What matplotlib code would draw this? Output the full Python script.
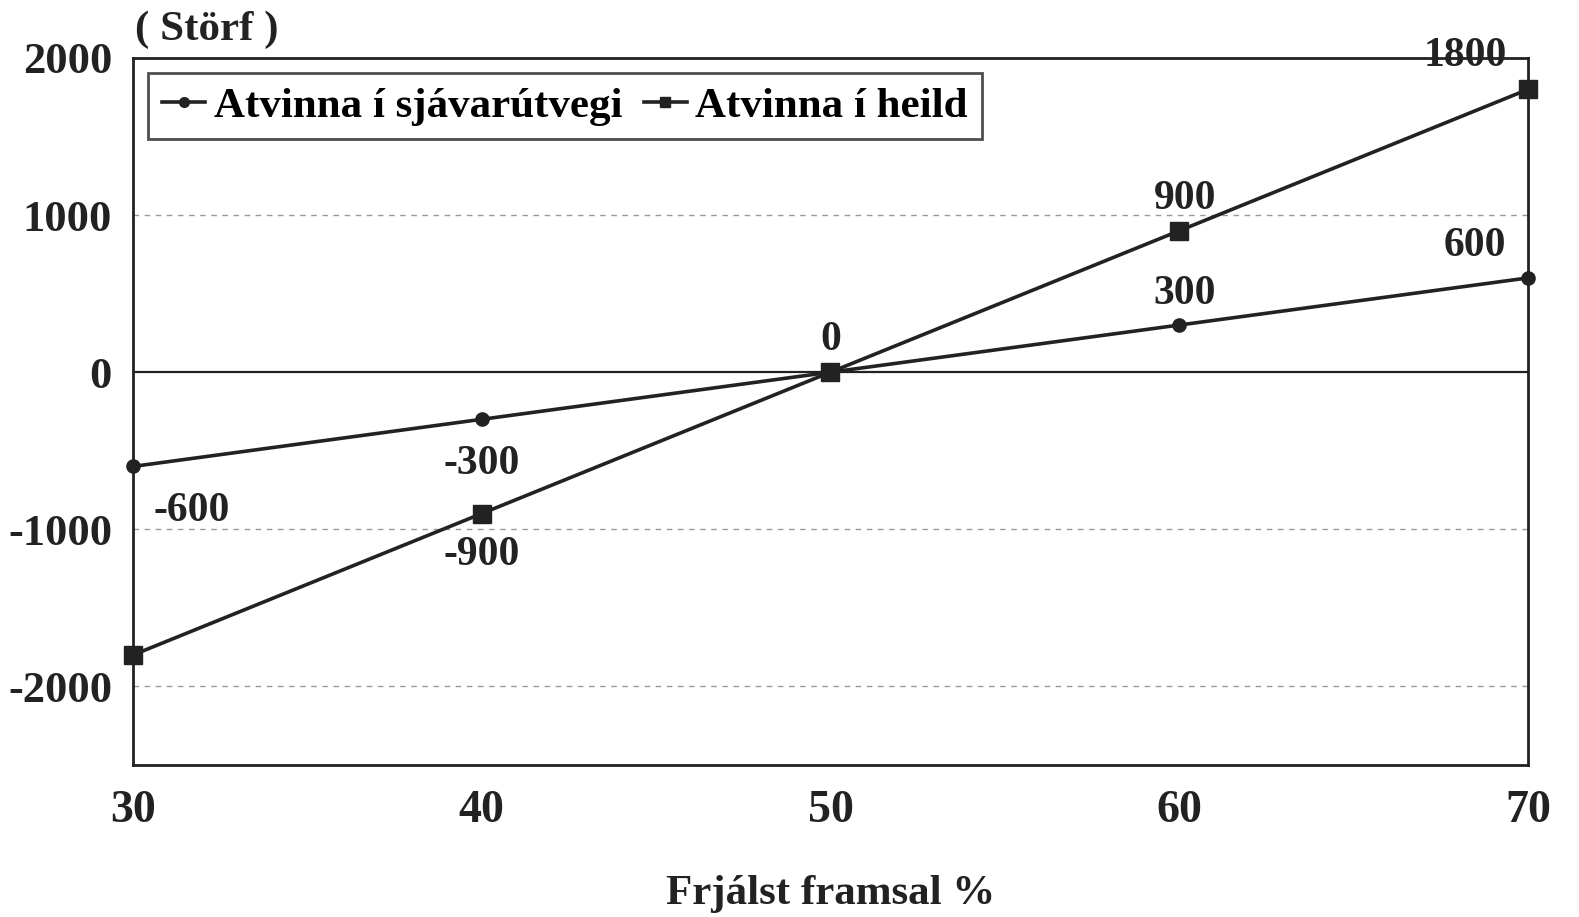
import matplotlib
matplotlib.use("Agg")
import matplotlib.pyplot as plt

x_vals = [30, 40, 50, 60, 70]
sjavarutvegur = [-600, -300, 0, 300, 600]
heild = [-1800, -900, 0, 900, 1800]
series_names = ["Atvinna í sjávarútvegi", "Atvinna í heild"]
x_ticks = [30, 40, 50, 60, 70]
y_ticks = [-2000, -1000, 0, 1000, 2000]

plt.rcParams['font.family'] = ['Liberation Serif', 'DejaVu Serif']
plt.rcParams['font.weight'] = 'bold'

fig = plt.figure(figsize=(15.79, 9.17), dpi=100)
ax = fig.add_axes([0.0842, 0.1658, 0.8835, 0.7710])

col = '#222222'
for yv in [1000, -1000, -2000]:
    ax.axhline(yv, color='#999999', lw=1.0, ls=(0, (4, 4)), zorder=1)
ax.axhline(0, color=col, lw=1.6, zorder=2)

ax.plot(x_vals, sjavarutvegur, color=col, lw=2.6, marker='o', ms=9.5,
        label=series_names[0], zorder=3, clip_on=False)
ax.plot(x_vals, heild, color=col, lw=2.6, marker='s', ms=13,
        label=series_names[1], zorder=3, clip_on=False)

fs_xtick = 33
fs_ytick = 32
fs_lab = 30
fs_leg = 31
# data labels (offsets in points)
offs_s = [(42, -32), (0, -32), (0, 23), (4, 22), (-38, 23)]
offs_h = [None, (0, -30), None, (4, 23), (-45, 24)]
for xv, yv, o in zip(x_vals, sjavarutvegur, offs_s):
    if o is None:
        continue
    ax.annotate(f"{yv}", (xv, yv), xytext=o, textcoords='offset points',
                ha='center', va='center', fontsize=fs_lab, fontweight='bold',
                color=col, annotation_clip=False)
for xv, yv, o in zip(x_vals, heild, offs_h):
    if o is None:
        continue
    ax.annotate(f"{yv}", (xv, yv), xytext=o, textcoords='offset points',
                ha='center', va='center', fontsize=fs_lab, fontweight='bold',
                color=col, annotation_clip=False)

ax.set_xlim(30, 70)
ax.set_ylim(-2500, 2000)
ax.set_xticks(x_ticks)
ax.set_yticks(y_ticks)
ax.set_xticklabels([str(v) for v in x_ticks], fontsize=fs_xtick, fontweight='bold', color=col)
ax.set_yticklabels([str(v) for v in y_ticks], fontsize=fs_ytick, fontweight='bold', color=col)
ax.tick_params(axis='both', length=0)
ax.tick_params(axis='y', pad=15)
ax.tick_params(axis='x', pad=18)
for s in ax.spines.values():
    s.set_linewidth(2.0)
    s.set_color(col)

ax.set_xlabel("Frjálst framsal %", fontsize=fs_leg, fontweight='bold', color=col, labelpad=31)
fig.text(0.131, 0.968, "( Störf )", fontsize=fs_leg, fontweight='bold', color=col,
         ha='center', va='center')

leg = ax.legend(loc='upper left', bbox_to_anchor=(0.011, 0.979), ncol=2,
                frameon=True, fancybox=False, edgecolor=col, borderaxespad=0,
                handlelength=1.0, handletextpad=0.2, columnspacing=0.5,
                borderpad=0.32, prop={'size': fs_leg, 'weight': 'bold'})
leg.get_frame().set_linewidth(2.0)
for h in leg.legend_handles:
    h.set_markersize(7)

fig.savefig("out.png", dpi=100, facecolor='white')
